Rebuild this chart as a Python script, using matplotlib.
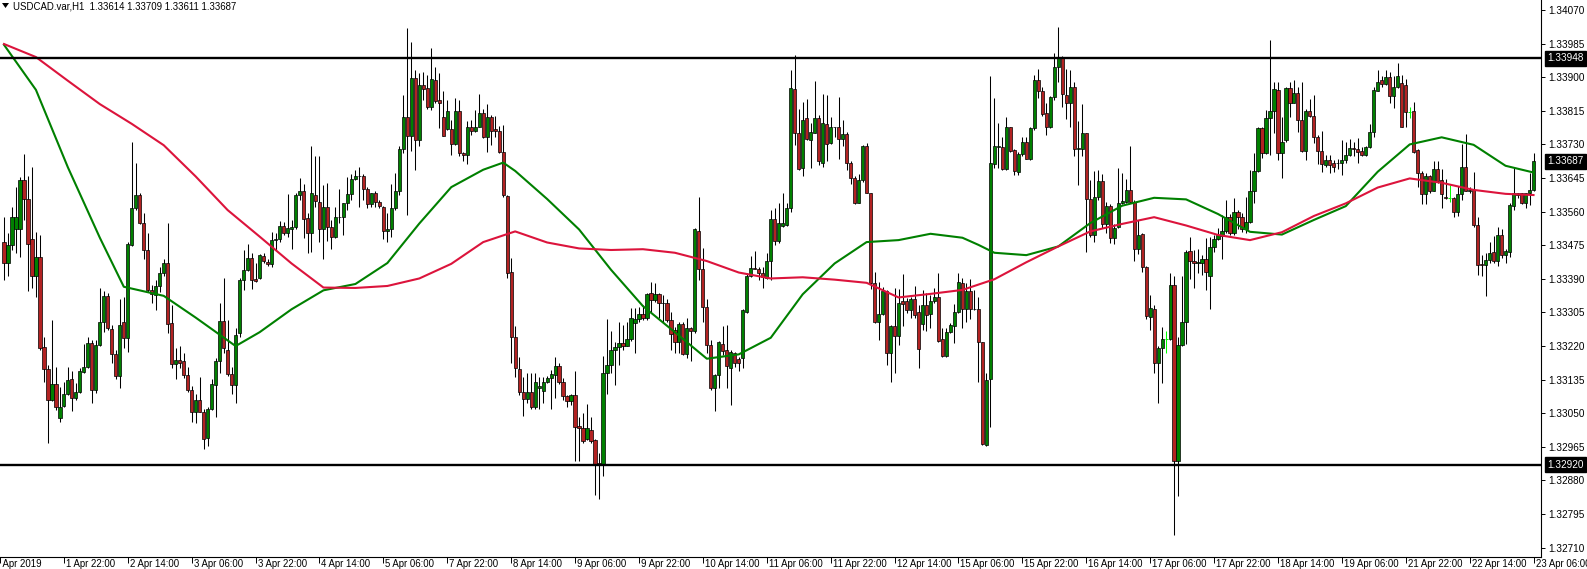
import numpy as np
import matplotlib
matplotlib.use('Agg')
import matplotlib.pyplot as plt
from matplotlib.patches import Polygon
from matplotlib.transforms import blended_transform_factory, offset_copy, IdentityTransform

plt.rcParams['font.family'] = ['Liberation Sans', 'DejaVu Sans']

# USDCAD H1, one bar per hour
opens = [
    1.33482, 1.33430, 1.33475, 1.33515, 1.33515, 1.33641, 1.33591, 1.33490, 1.33398, 1.33445,
    1.33217, 1.33162, 1.33083, 1.33124, 1.33039, 1.33069, 1.33098, 1.33136, 1.33088, 1.33104,
    1.33154, 1.33167, 1.33229, 1.33109, 1.33223, 1.33280, 1.33346, 1.33262, 1.33199, 1.33145,
    1.33280, 1.33240, 1.33476, 1.33568, 1.33602, 1.33531, 1.33463, 1.33362, 1.33349, 1.33372,
    1.33404, 1.33430, 1.33278, 1.33174, 1.33185, 1.33181, 1.33147, 1.33110, 1.33054, 1.33083,
    1.33054, 1.32987, 1.33060, 1.33122, 1.33183, 1.33283, 1.33210, 1.33150, 1.33122, 1.33252,
    1.33388, 1.33413, 1.33442, 1.33389, 1.33391, 1.33448, 1.33433, 1.33427, 1.33488, 1.33492,
    1.33524, 1.33505, 1.33517, 1.33520, 1.33602, 1.33611, 1.33543, 1.33507, 1.33602, 1.33585,
    1.33515, 1.33572, 1.33522, 1.33495, 1.33546, 1.33547, 1.33583, 1.33604, 1.33642, 1.33651,
    1.33651, 1.33617, 1.33579, 1.33606, 1.33585, 1.33572, 1.33512, 1.33515, 1.33568, 1.33611,
    1.33718, 1.33799, 1.33752, 1.33897, 1.33741, 1.33881, 1.33872, 1.33824, 1.33893, 1.33843,
    1.33800, 1.33768, 1.33769, 1.33731, 1.33815, 1.33708, 1.33703, 1.33775, 1.33765, 1.33773,
    1.33809, 1.33748, 1.33799, 1.33769, 1.33764, 1.33710, 1.33600, 1.33407, 1.33242, 1.33162,
    1.33104, 1.33085, 1.33104, 1.33066, 1.33113, 1.33107, 1.33130, 1.33139, 1.33147, 1.33170,
    1.33128, 1.33094, 1.33082, 1.33096, 1.33018, 1.33012, 1.32985, 1.33008, 1.32983, 1.32923,
    1.32922, 1.33151, 1.33172, 1.33210, 1.33217, 1.33229, 1.33220, 1.33237, 1.33278, 1.33288,
    1.33301, 1.33292, 1.33355, 1.33337, 1.33352, 1.33330, 1.33330, 1.33286, 1.33261, 1.33231,
    1.33276, 1.33199, 1.33265, 1.33259, 1.33512, 1.33414, 1.33318, 1.33223, 1.33113, 1.33147,
    1.33225, 1.33210, 1.33164, 1.33203, 1.33187, 1.33189, 1.33307, 1.33397, 1.33417, 1.33414,
    1.33406, 1.33393, 1.33435, 1.33541, 1.33487, 1.33524, 1.33525, 1.33568, 1.33870, 1.33758,
    1.33670, 1.33796, 1.33741, 1.33758, 1.33796, 1.33684, 1.33781, 1.33733, 1.33773, 1.33773,
    1.33743, 1.33756, 1.33682, 1.33644, 1.33583, 1.33640, 1.33726, 1.33606, 1.33379, 1.33280,
    1.33300, 1.33360, 1.33203, 1.33271, 1.33246, 1.33334, 1.33334, 1.33311, 1.33338, 1.33305,
    1.33276, 1.33324, 1.33301, 1.33334, 1.33345, 1.33237, 1.33196, 1.33255, 1.33271, 1.33305,
    1.33379, 1.33313, 1.33360, 1.33313, 1.33313, 1.33230, 1.32970, 1.33136, 1.33681, 1.33723,
    1.33723, 1.33669, 1.33773, 1.33716, 1.33661, 1.33706, 1.33735, 1.33693, 1.33771, 1.33893,
    1.33865, 1.33809, 1.33773, 1.33849, 1.33925, 1.33948, 1.33855, 1.33836, 1.33875, 1.33718,
    1.33718, 1.33758, 1.33591, 1.33501, 1.33596, 1.33638, 1.33529, 1.33574, 1.33493, 1.33520,
    1.33581, 1.33585, 1.33615, 1.33585, 1.33465, 1.33503, 1.33419, 1.33294, 1.33313, 1.33178,
    1.33214, 1.33237, 1.33237, 1.33375, 1.32930, 1.33223, 1.33282, 1.33461, 1.33436, 1.33430,
    1.33430, 1.33441, 1.33396, 1.33470, 1.33491, 1.33499, 1.33512, 1.33547, 1.33505, 1.33558,
    1.33547, 1.33515, 1.33533, 1.33611, 1.33664, 1.33771, 1.33708, 1.33796, 1.33815, 1.33868,
    1.33709, 1.33740, 1.33872, 1.33836, 1.33861, 1.33792, 1.33714, 1.33815, 1.33803, 1.33750,
    1.33714, 1.33678, 1.33691, 1.33682, 1.33682, 1.33684, 1.33691, 1.33703, 1.33720, 1.33718,
    1.33714, 1.33702, 1.33723, 1.33761, 1.33866, 1.33893, 1.33883, 1.33900, 1.33853, 1.33875,
    1.33885, 1.33881, 1.33813, 1.33815, 1.33716, 1.33657, 1.33604, 1.33649, 1.33613, 1.33667,
    1.33640, 1.33598, 1.33594, 1.33594, 1.33558, 1.33604, 1.33674, 1.33613, 1.33615, 1.33526,
    1.33428, 1.33424, 1.33438, 1.33457, 1.33436, 1.33501, 1.33451, 1.33457, 1.33575, 1.33608,
    1.33606, 1.33583, 1.33606, 1.33614,
]
highs = [
    1.33547, 1.33505, 1.33572, 1.33623, 1.33647, 1.33705, 1.33649, 1.33673, 1.33509, 1.33501,
    1.33244, 1.33172, 1.33286, 1.33168, 1.33117, 1.33130, 1.33168, 1.33158, 1.33126, 1.33164,
    1.33225, 1.33244, 1.33235, 1.33235, 1.33366, 1.33360, 1.33355, 1.33273, 1.33210, 1.33340,
    1.33345, 1.33484, 1.33735, 1.33683, 1.33606, 1.33557, 1.33505, 1.33375, 1.33388, 1.33421,
    1.33441, 1.33531, 1.33324, 1.33214, 1.33219, 1.33202, 1.33168, 1.33120, 1.33100, 1.33141,
    1.33062, 1.33066, 1.33136, 1.33189, 1.33328, 1.33392, 1.33286, 1.33168, 1.33265, 1.33392,
    1.33463, 1.33478, 1.33455, 1.33430, 1.33453, 1.33455, 1.33440, 1.33509, 1.33505, 1.33536,
    1.33535, 1.33604, 1.33540, 1.33606, 1.33645, 1.33631, 1.33556, 1.33726, 1.33700, 1.33701,
    1.33628, 1.33633, 1.33540, 1.33572, 1.33617, 1.33583, 1.33647, 1.33655, 1.33666, 1.33674,
    1.33655, 1.33623, 1.33608, 1.33611, 1.33589, 1.33574, 1.33556, 1.33631, 1.33657, 1.33725,
    1.33855, 1.34024, 1.33988, 1.33919, 1.33910, 1.33914, 1.33906, 1.33973, 1.33927, 1.33910,
    1.33864, 1.33843, 1.33792, 1.33847, 1.33843, 1.33712, 1.33788, 1.33792, 1.33817, 1.33858,
    1.33819, 1.33832, 1.33805, 1.33802, 1.33777, 1.33779, 1.33602, 1.33442, 1.33271, 1.33193,
    1.33143, 1.33153, 1.33151, 1.33153, 1.33141, 1.33141, 1.33145, 1.33160, 1.33192, 1.33177,
    1.33139, 1.33096, 1.33100, 1.33158, 1.33041, 1.33050, 1.33074, 1.33040, 1.32984, 1.32949,
    1.33195, 1.33288, 1.33257, 1.33231, 1.33282, 1.33273, 1.33282, 1.33316, 1.33316, 1.33320,
    1.33324, 1.33355, 1.33383, 1.33379, 1.33355, 1.33349, 1.33338, 1.33307, 1.33269, 1.33282,
    1.33282, 1.33290, 1.33269, 1.33518, 1.33598, 1.33467, 1.33338, 1.33235, 1.33150, 1.33234,
    1.33271, 1.33273, 1.33210, 1.33206, 1.33192, 1.33313, 1.33404, 1.33448, 1.33461, 1.33421,
    1.33421, 1.33456, 1.33563, 1.33568, 1.33581, 1.33606, 1.33583, 1.33919, 1.33956, 1.33819,
    1.33838, 1.33844, 1.33784, 1.33891, 1.33805, 1.33858, 1.33855, 1.33800, 1.33775, 1.33849,
    1.33792, 1.33761, 1.33687, 1.33649, 1.33655, 1.33729, 1.33733, 1.33608, 1.33408, 1.33383,
    1.33370, 1.33362, 1.33273, 1.33366, 1.33364, 1.33402, 1.33341, 1.33345, 1.33372, 1.33324,
    1.33362, 1.33355, 1.33349, 1.33366, 1.33404, 1.33265, 1.33265, 1.33278, 1.33327, 1.33406,
    1.33392, 1.33379, 1.33389, 1.33362, 1.33345, 1.33231, 1.33151, 1.33903, 1.33847, 1.33785,
    1.33750, 1.33800, 1.33773, 1.33718, 1.33712, 1.33750, 1.33750, 1.33775, 1.33906, 1.33920,
    1.33876, 1.33834, 1.33853, 1.33962, 1.34028, 1.33954, 1.33920, 1.33919, 1.33889, 1.33788,
    1.33832, 1.33758, 1.33640, 1.33664, 1.33666, 1.33655, 1.33585, 1.33579, 1.33529, 1.33670,
    1.33657, 1.33642, 1.33725, 1.33589, 1.33539, 1.33505, 1.33423, 1.33349, 1.33324, 1.33219,
    1.33269, 1.33258, 1.33404, 1.33396, 1.33244, 1.33397, 1.33463, 1.33495, 1.33463, 1.33465,
    1.33451, 1.33493, 1.33495, 1.33501, 1.33518, 1.33552, 1.33589, 1.33554, 1.33594, 1.33563,
    1.33556, 1.33596, 1.33666, 1.33709, 1.33775, 1.33773, 1.33816, 1.33994, 1.33889, 1.33889,
    1.33800, 1.33876, 1.33889, 1.33892, 1.33876, 1.33889, 1.33819, 1.33844, 1.33855, 1.33754,
    1.33764, 1.33703, 1.33703, 1.33691, 1.33693, 1.33740, 1.33735, 1.33743, 1.33735, 1.33746,
    1.33723, 1.33725, 1.33782, 1.33876, 1.33919, 1.33902, 1.33917, 1.33913, 1.33903, 1.33937,
    1.33906, 1.33895, 1.33824, 1.33838, 1.33718, 1.33664, 1.33657, 1.33653, 1.33687, 1.33687,
    1.33667, 1.33642, 1.33628, 1.33598, 1.33625, 1.33731, 1.33757, 1.33623, 1.33661, 1.33547,
    1.33451, 1.33455, 1.33484, 1.33498, 1.33520, 1.33515, 1.33465, 1.33581, 1.33674, 1.33608,
    1.33608, 1.33608, 1.33657, 1.33709,
]
lows = [
    1.33386, 1.33396, 1.33463, 1.33455, 1.33445, 1.33540, 1.33360, 1.33366, 1.33343, 1.33210,
    1.33130, 1.32974, 1.33082, 1.33058, 1.33027, 1.33066, 1.33096, 1.33056, 1.33083, 1.33102,
    1.33151, 1.33164, 1.33077, 1.33102, 1.33219, 1.33256, 1.33261, 1.33178, 1.33136, 1.33113,
    1.33214, 1.33206, 1.33472, 1.33564, 1.33529, 1.33440, 1.33357, 1.33328, 1.33311, 1.33357,
    1.33396, 1.33252, 1.33164, 1.33136, 1.33164, 1.33139, 1.33104, 1.33029, 1.33026, 1.33052,
    1.32959, 1.32967, 1.33058, 1.33041, 1.33151, 1.33202, 1.33145, 1.33098, 1.33077, 1.33242,
    1.33362, 1.33411, 1.33364, 1.33383, 1.33389, 1.33431, 1.33423, 1.33421, 1.33463, 1.33484,
    1.33501, 1.33495, 1.33466, 1.33515, 1.33589, 1.33493, 1.33456, 1.33459, 1.33572, 1.33482,
    1.33440, 1.33487, 1.33466, 1.33493, 1.33531, 1.33501, 1.33563, 1.33589, 1.33639, 1.33572,
    1.33589, 1.33568, 1.33572, 1.33572, 1.33568, 1.33490, 1.33484, 1.33497, 1.33564, 1.33602,
    1.33708, 1.33552, 1.33714, 1.33666, 1.33725, 1.33843, 1.33819, 1.33817, 1.33834, 1.33771,
    1.33752, 1.33767, 1.33703, 1.33729, 1.33700, 1.33687, 1.33681, 1.33754, 1.33762, 1.33773,
    1.33746, 1.33712, 1.33729, 1.33750, 1.33708, 1.33598, 1.33392, 1.33177, 1.33143, 1.33096,
    1.33043, 1.33075, 1.33062, 1.33062, 1.33062, 1.33077, 1.33126, 1.33062, 1.33088, 1.33124,
    1.33083, 1.33065, 1.33071, 1.32930, 1.32930, 1.32974, 1.32983, 1.32976, 1.32843, 1.32834,
    1.32891, 1.33100, 1.33151, 1.33122, 1.33172, 1.33210, 1.33219, 1.33234, 1.33203, 1.33282,
    1.33286, 1.33286, 1.33307, 1.33332, 1.33290, 1.33282, 1.33282, 1.33210, 1.33202, 1.33202,
    1.33198, 1.33189, 1.33181, 1.33252, 1.33388, 1.33282, 1.33202, 1.33109, 1.33056, 1.33113,
    1.33198, 1.33113, 1.33071, 1.33168, 1.33158, 1.33164, 1.33303, 1.33394, 1.33414, 1.33388,
    1.33366, 1.33389, 1.33388, 1.33476, 1.33480, 1.33522, 1.33524, 1.33560, 1.33729, 1.33666,
    1.33650, 1.33741, 1.33670, 1.33758, 1.33678, 1.33674, 1.33687, 1.33731, 1.33748, 1.33693,
    1.33726, 1.33666, 1.33630, 1.33580, 1.33581, 1.33636, 1.33606, 1.33364, 1.33278, 1.33235,
    1.33299, 1.33172, 1.33128, 1.33153, 1.33223, 1.33271, 1.33303, 1.33290, 1.33290, 1.33165,
    1.33261, 1.33257, 1.33265, 1.33328, 1.33231, 1.33193, 1.33193, 1.33252, 1.33227, 1.33303,
    1.33265, 1.33282, 1.33288, 1.33310, 1.33130, 1.32970, 1.32967, 1.33016, 1.33670, 1.33670,
    1.33666, 1.33666, 1.33712, 1.33653, 1.33653, 1.33700, 1.33693, 1.33691, 1.33767, 1.33847,
    1.33803, 1.33754, 1.33771, 1.33843, 1.33889, 1.33824, 1.33794, 1.33773, 1.33700, 1.33628,
    1.33701, 1.33459, 1.33497, 1.33482, 1.33589, 1.33518, 1.33505, 1.33480, 1.33478, 1.33518,
    1.33580, 1.33583, 1.33581, 1.33434, 1.33453, 1.33408, 1.33288, 1.33261, 1.33153, 1.33077,
    1.33126, 1.33202, 1.33235, 1.32742, 1.32841, 1.33220, 1.33225, 1.33389, 1.33366, 1.33404,
    1.33400, 1.33362, 1.33313, 1.33459, 1.33488, 1.33440, 1.33505, 1.33501, 1.33501, 1.33515,
    1.33509, 1.33505, 1.33531, 1.33581, 1.33661, 1.33695, 1.33705, 1.33703, 1.33758, 1.33691,
    1.33644, 1.33737, 1.33800, 1.33834, 1.33762, 1.33712, 1.33691, 1.33800, 1.33733, 1.33681,
    1.33661, 1.33674, 1.33659, 1.33661, 1.33667, 1.33652, 1.33682, 1.33701, 1.33701, 1.33682,
    1.33700, 1.33700, 1.33720, 1.33748, 1.33864, 1.33876, 1.33881, 1.33836, 1.33822, 1.33872,
    1.33773, 1.33773, 1.33796, 1.33708, 1.33623, 1.33580, 1.33580, 1.33608, 1.33611, 1.33633,
    1.33568, 1.33591, 1.33585, 1.33547, 1.33549, 1.33589, 1.33611, 1.33606, 1.33522, 1.33400,
    1.33396, 1.33347, 1.33431, 1.33431, 1.33423, 1.33442, 1.33431, 1.33446, 1.33563, 1.33594,
    1.33580, 1.33568, 1.33577, 1.33611,
]
closes = [
    1.33430, 1.33475, 1.33547, 1.33547, 1.33641, 1.33591, 1.33478, 1.33398, 1.33445, 1.33214,
    1.33162, 1.33083, 1.33124, 1.33065, 1.33065, 1.33100, 1.33135, 1.33088, 1.33104, 1.33156,
    1.33167, 1.33229, 1.33109, 1.33223, 1.33280, 1.33346, 1.33265, 1.33199, 1.33145, 1.33273,
    1.33240, 1.33478, 1.33568, 1.33602, 1.33531, 1.33463, 1.33362, 1.33351, 1.33372, 1.33404,
    1.33430, 1.33276, 1.33174, 1.33185, 1.33177, 1.33147, 1.33110, 1.33054, 1.33083, 1.33054,
    1.32984, 1.33060, 1.33124, 1.33183, 1.33283, 1.33214, 1.33150, 1.33122, 1.33248, 1.33388,
    1.33413, 1.33442, 1.33386, 1.33384, 1.33451, 1.33436, 1.33427, 1.33488, 1.33492, 1.33524,
    1.33505, 1.33519, 1.33522, 1.33602, 1.33613, 1.33541, 1.33505, 1.33606, 1.33588, 1.33515,
    1.33572, 1.33522, 1.33495, 1.33547, 1.33547, 1.33583, 1.33604, 1.33642, 1.33651, 1.33649,
    1.33617, 1.33579, 1.33606, 1.33585, 1.33574, 1.33512, 1.33515, 1.33568, 1.33611, 1.33718,
    1.33799, 1.33752, 1.33897, 1.33741, 1.33881, 1.33870, 1.33824, 1.33895, 1.33841, 1.33834,
    1.33752, 1.33815, 1.33731, 1.33815, 1.33708, 1.33702, 1.33775, 1.33765, 1.33775, 1.33809,
    1.33748, 1.33799, 1.33765, 1.33765, 1.33710, 1.33601, 1.33404, 1.33244, 1.33164, 1.33104,
    1.33085, 1.33104, 1.33065, 1.33130, 1.33119, 1.33130, 1.33139, 1.33150, 1.33170, 1.33128,
    1.33094, 1.33082, 1.33096, 1.33016, 1.33012, 1.32981, 1.33012, 1.32981, 1.32919, 1.32919,
    1.33151, 1.33172, 1.33210, 1.33217, 1.33229, 1.33220, 1.33237, 1.33290, 1.33288, 1.33301,
    1.33292, 1.33352, 1.33337, 1.33352, 1.33328, 1.33328, 1.33286, 1.33251, 1.33231, 1.33276,
    1.33199, 1.33265, 1.33259, 1.33515, 1.33414, 1.33318, 1.33223, 1.33113, 1.33147, 1.33230,
    1.33208, 1.33170, 1.33204, 1.33178, 1.33177, 1.33310, 1.33397, 1.33417, 1.33415, 1.33404,
    1.33394, 1.33435, 1.33541, 1.33487, 1.33531, 1.33532, 1.33568, 1.33872, 1.33758, 1.33668,
    1.33792, 1.33744, 1.33761, 1.33796, 1.33687, 1.33784, 1.33730, 1.33773, 1.33774, 1.33743,
    1.33756, 1.33682, 1.33644, 1.33583, 1.33640, 1.33726, 1.33608, 1.33379, 1.33280, 1.33300,
    1.33360, 1.33203, 1.33271, 1.33246, 1.33328, 1.33327, 1.33311, 1.33338, 1.33299, 1.33212,
    1.33324, 1.33299, 1.33334, 1.33343, 1.33234, 1.33196, 1.33255, 1.33273, 1.33305, 1.33381,
    1.33313, 1.33360, 1.33313, 1.33315, 1.33231, 1.32972, 1.33134, 1.33682, 1.33727, 1.33726,
    1.33669, 1.33773, 1.33714, 1.33664, 1.33706, 1.33735, 1.33693, 1.33771, 1.33893, 1.33864,
    1.33807, 1.33773, 1.33849, 1.33925, 1.33952, 1.33858, 1.33836, 1.33875, 1.33718, 1.33720,
    1.33758, 1.33591, 1.33501, 1.33596, 1.33638, 1.33529, 1.33574, 1.33493, 1.33518, 1.33581,
    1.33587, 1.33615, 1.33585, 1.33465, 1.33501, 1.33419, 1.33296, 1.33316, 1.33178, 1.33214,
    1.33237, 1.33237, 1.33375, 1.32930, 1.33223, 1.33282, 1.33459, 1.33434, 1.33430, 1.33432,
    1.33441, 1.33407, 1.33470, 1.33491, 1.33501, 1.33512, 1.33547, 1.33507, 1.33558, 1.33546,
    1.33515, 1.33533, 1.33611, 1.33664, 1.33771, 1.33708, 1.33796, 1.33815, 1.33870, 1.33709,
    1.33737, 1.33872, 1.33836, 1.33861, 1.33792, 1.33714, 1.33815, 1.33803, 1.33750, 1.33714,
    1.33681, 1.33691, 1.33677, 1.33674, 1.33683, 1.33691, 1.33703, 1.33720, 1.33719, 1.33712,
    1.33702, 1.33723, 1.33761, 1.33868, 1.33889, 1.33882, 1.33900, 1.33853, 1.33875, 1.33903,
    1.33775, 1.33813, 1.33813, 1.33712, 1.33657, 1.33604, 1.33649, 1.33613, 1.33667, 1.33638,
    1.33604, 1.33594, 1.33594, 1.33558, 1.33604, 1.33674, 1.33613, 1.33615, 1.33526, 1.33424,
    1.33424, 1.33438, 1.33455, 1.33436, 1.33501, 1.33451, 1.33461, 1.33577, 1.33608, 1.33602,
    1.33583, 1.33606, 1.33615, 1.33687,
]

# moving averages (green = fast, red = slow), read at these bar numbers
green_idx = [0, 8, 16, 24, 30, 40, 48, 58, 64, 72, 80, 88, 96, 104, 112, 120, 125, 128, 136, 144,
             152, 160, 168, 176, 184, 192, 200, 208, 216, 224, 232, 240, 244, 248, 256, 264, 272,
             280, 288, 296, 304, 312, 320, 328, 336, 344, 352, 360, 368, 376, 383]
green_ma = [1.33982, 1.33868, 1.33672, 1.33494, 1.33370, 1.33347, 1.33292, 1.33220, 1.33255, 1.33313,
            1.33361, 1.33377, 1.33430, 1.33530, 1.33622, 1.33666, 1.33684, 1.33663, 1.33592, 1.33515,
            1.33413, 1.33321, 1.33255, 1.33188, 1.33199, 1.33241, 1.33351, 1.33429, 1.33483, 1.33488,
            1.33504, 1.33494, 1.33476, 1.33456, 1.33450, 1.33472, 1.33531, 1.33575, 1.33595, 1.33591,
            1.33554, 1.33509, 1.33502, 1.33539, 1.33574, 1.33661, 1.33730, 1.33748, 1.33729, 1.33676,
            1.33659]
red_idx = list(range(0, 384, 8)) + [383]
red_ma = [1.33984, 1.33951, 1.33891, 1.33832, 1.33782, 1.33728, 1.33649, 1.33564, 1.33497, 1.33429,
          1.33368, 1.33367, 1.33372, 1.33391, 1.33428, 1.33483, 1.33510, 1.33482, 1.33467, 1.33463,
          1.33465, 1.33456, 1.33435, 1.33406, 1.33391, 1.33394, 1.33388, 1.33380, 1.33343, 1.33352,
          1.33362, 1.33389, 1.33432, 1.33472, 1.33510, 1.33529, 1.33546, 1.33525, 1.33501, 1.33488,
          1.33508, 1.33549, 1.33581, 1.33621, 1.33644, 1.33633, 1.33615, 1.33605, 1.33602]

levels = [1.33948, 1.32920]
last_price = 1.33687
price_ticks = [1.32710, 1.32795, 1.32880, 1.32965, 1.33050, 1.33135, 1.33220, 1.33305, 1.33390,
               1.33475, 1.33560, 1.33645, 1.33730, 1.33815, 1.33900, 1.33985, 1.34070]
time_labels = ["1 Apr 2019", "1 Apr 22:00", "2 Apr 14:00", "3 Apr 06:00", "3 Apr 22:00",
               "4 Apr 14:00", "5 Apr 06:00", "7 Apr 22:00", "8 Apr 14:00", "9 Apr 06:00",
               "9 Apr 22:00", "10 Apr 14:00", "11 Apr 06:00", "11 Apr 22:00", "12 Apr 14:00",
               "15 Apr 06:00", "15 Apr 22:00", "16 Apr 14:00", "17 Apr 06:00", "17 Apr 22:00",
               "18 Apr 14:00", "19 Apr 06:00", "21 Apr 22:00", "22 Apr 14:00", "23 Apr 06:00"]
time_label_bars = list(range(-1, 384, 16))
header = "USDCAD.var,H1  1.33614 1.33709 1.33611 1.33687"

W, H = 1587, 569
plot_w, plot_h = 1541, 557
fig = plt.figure(figsize=(W / 100, H / 100), dpi=100)
ax = fig.add_axes([0, (H - plot_h) / H, plot_w / W, plot_h / H])

o = np.array(opens)
hi = np.array(highs)
lo = np.array(lows)
c = np.array(closes)
x = np.arange(len(c))
flat = o == c

# candles
ax.vlines(x[~flat], lo[~flat], hi[~flat], color='black', lw=0.75, zorder=2)
ax.vlines(x[flat], lo[flat], hi[flat], color='#00ff00', lw=0.75, zorder=2)
ax.hlines(c[flat], x[flat] - 0.4, x[flat] + 0.4, color='#00ff00', lw=0.75, zorder=2)
body_col = np.where(c > o, '#008000', '#b22222')
m = ~flat
ax.bar(x[m], np.abs(c - o)[m], bottom=np.minimum(o, c)[m], width=0.8,
       color=body_col[m], edgecolor='black', linewidth=0.5, zorder=3)

# moving averages
ax.plot(green_idx, green_ma, color='#008000', lw=1.5, zorder=4)
ax.plot(red_idx, red_ma, color='#dc143c', lw=1.5, zorder=4)

# horizontal levels
for lv in levels:
    ax.axhline(lv, color='black', lw=1.7, zorder=5)

ax.set_xlim(-1.5 / 4, (plot_w - 1.5) / 4)
ax.set_ylim(1.326865, 1.340953)

for s in ['top', 'left']:
    ax.spines[s].set_visible(False)
ax.spines['right'].set_linewidth(0.8)
ax.spines['bottom'].set_linewidth(0.8)

ax.yaxis.tick_right()
ax.set_yticks(price_ticks)
ax.set_yticklabels(['%.5f' % t for t in price_ticks])
ax.tick_params(axis='y', length=3, width=0.7, pad=2, labelsize=7.2)

ax.set_xticks(time_label_bars)
ax.tick_params(axis='x', length=4, width=0.7, labelbottom=False)
tr = blended_transform_factory(ax.transData, ax.transAxes)
for i, (b, lab) in enumerate(zip(time_label_bars, time_labels)):
    dx = -5 if i == 0 else 2
    t = offset_copy(tr, fig=fig, x=dx, y=-2, units='dots')
    ax.text(b, 0, lab, transform=t, ha='left', va='top', fontsize=6.9, clip_on=False)

# boxed price tags on the scale
tr_y = blended_transform_factory(ax.transAxes, ax.transData)
for p in levels + [last_price]:
    t = offset_copy(tr_y, fig=fig, x=6, y=0, units='dots')
    ax.text(1.0, p, '%.5f' % p, transform=t, ha='left', va='center', color='white',
            fontsize=7.2, zorder=10, clip_on=False,
            bbox=dict(boxstyle='square,pad=0.25', facecolor='black', edgecolor='black'))

# header
fig.add_artist(Polygon([[2, H - 3], [9, H - 3], [5.5, H - 8]], closed=True,
                       facecolor='black', edgecolor='none', transform=IdentityTransform()))
fig.text(13 / W, 1 - 6.5 / H, header, fontsize=6.9, va='center', ha='left')

fig.savefig('out.png', dpi=100)
